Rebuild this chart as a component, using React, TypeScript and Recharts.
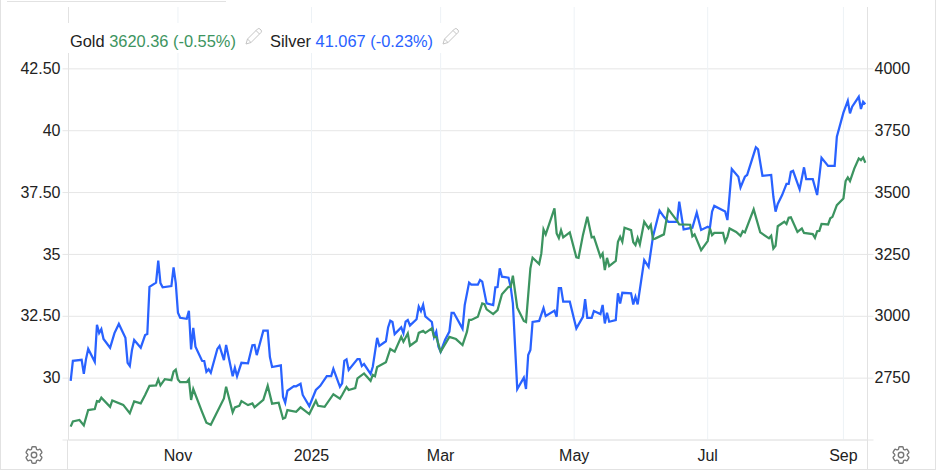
import { CartesianGrid, Line, LineChart, XAxis, YAxis } from "recharts";

// x values are calendar days counted from 12 Sep 2024
const silverDays = [1,2,6,7,8,9,12,13,14,15,16,19,21,23,26,27,28,29,30,33,35,36,37,40,41,42,43,47,48,49,50,51,54,55,56,57,58,61,62,63,64,65,68,69,71,72,75,76,77,79,82,84,85,86,89,91,92,93,97,98,99,100,103,104,106,107,110,113,115,118,120,121,124,125,126,127,128,132,133,134,135,138,139,141,142,145,146,147,148,149,152,153,154,155,156,159,160,161,162,163,166,167,168,169,170,172,174,175,176,180,181,183,184,187,188,189,191,194,195,196,197,198,201,202,203,205,208,209,210,211,212,215,217,218,222,223,224,225,226,229,232,235,236,237,239,240,243,244,245,246,247,250,251,252,253,257,258,259,260,263,265,267,270,272,274,278,279,281,285,287,289,292,293,294,295,300,301,302,303,306,307,309,310,314,315,317,321,322,323,324,326,328,329,330,331,334,336,337,340,342,343,344,347,350,351,354,356,357,358,361,362,363,364];
const silverValues = [29.89,30.7,30.74,30.17,30.77,31.18,30.66,32.16,31.82,31.98,31.58,31.23,31.82,32.19,31.63,30.62,30.49,31.14,31.54,31.23,31.74,31.78,33.69,33.86,34.75,33.84,33.67,33.72,34.48,33.84,32.64,32.44,32.4,32.72,31.16,32.03,31.27,30.7,30.69,30.26,30.36,30.22,31.18,31.3,30.73,31.34,30.08,30.42,30.08,30.62,30.6,31.33,31.34,30.93,31.92,31.92,30.86,30.45,30.52,29.25,29.01,29.49,29.68,29.67,29.77,29.32,28.87,29.52,29.69,30.08,30.08,30.38,29.65,29.79,30.7,30.76,30.33,30.77,30.77,30.49,30.57,30.17,30.46,31.63,31.3,31.49,32.05,32.32,32.27,31.78,32.05,31.81,32.28,32.35,32.13,32.38,32.89,32.71,32.96,32.5,32.27,31.67,31.88,31.27,31.07,31.54,31.88,32.64,32.64,32,32.95,33.86,33.78,33.78,33.97,33.9,33.02,32.95,33.67,33.68,34.44,34.1,34.06,33.69,33.02,29.56,30.02,29.56,30.93,31.14,32.27,32.31,32.83,32.51,32.73,32.48,33.64,33.64,33.09,33.09,32.01,32.48,33.19,32.44,32.44,32.71,32.59,32.96,32.21,32.64,32.28,32.35,33.43,33.02,33.45,33.43,32.98,33.29,32.98,34.77,34.5,35.72,36.77,36.52,36.32,36.32,37.13,36.01,36.08,36.69,35.99,36.12,36.07,36.73,36.96,36.73,36.39,37.4,38.45,38.14,37.71,38.14,38.21,39.33,39.25,38.18,38.21,37.33,36.73,37.04,37.4,37.85,37.85,38.34,38.38,37.63,38.52,38.04,38.04,37.4,38.14,38.91,38.58,38.58,39.76,40.73,41.21,40.7,40.97,41.37,40.88,41.17,41.067];

const goldDays = [1,2,5,7,9,12,13,14,15,19,20,25,28,30,33,35,37,40,41,42,44,47,48,49,50,51,54,55,56,57,61,63,65,71,72,75,76,78,79,82,84,85,89,91,93,96,98,99,100,104,106,110,113,114,117,121,124,125,127,128,131,132,135,138,139,140,141,145,147,149,152,153,155,156,159,160,162,163,166,167,168,170,174,177,180,182,183,184,187,189,190,191,194,196,198,201,202,203,205,208,209,211,212,215,216,217,218,222,223,224,225,226,229,232,233,235,237,239,240,243,244,245,246,247,250,251,252,253,254,257,258,259,260,261,263,265,266,267,268,272,274,278,279,284,285,286,289,292,293,294,295,299,300,301,302,305,307,308,309,313,316,320,321,322,323,324,327,328,329,330,333,335,336,340,341,342,343,344,347,348,349,351,354,355,356,357,359,361,362,363,364];
const goldValues = [2554,2575,2581,2559,2621,2625,2657,2655,2671,2634,2660,2642,2608,2656,2648,2682,2719,2721,2745,2721,2746,2742,2776,2784,2745,2734,2734,2745,2662,2706,2614,2570,2562,2668,2715,2612,2632,2638,2657,2641,2648,2632,2662,2719,2647,2651,2586,2590,2621,2614,2632,2605,2659,2638,2634,2685,2667,2682,2714,2702,2710,2749,2769,2739,2763,2758,2795,2814,2868,2857,2917,2897,2931,2881,2900,2933,2941,2933,2951,2917,2917,2857,2917,2908,2884,2937,2985,2985,2998,3052,3049,3028,3009,3025,3089,3119,3119,3164,3035,2981,2977,3194,3237,3211,3254,3351,3331,3436,3335,3316,3348,3319,3339,3238,3236,3328,3402,3319,3321,3240,3254,3187,3236,3203,3224,3301,3321,3301,3358,3348,3299,3288,3317,3291,3382,3355,3369,3312,3314,3331,3433,3386,3371,3370,3323,3331,3267,3304,3355,3328,3337,3337,3301,3321,3355,3341,3325,3344,3339,3432,3339,3315,3325,3274,3285,3364,3382,3373,3398,3400,3341,3355,3337,3332,3317,3344,3345,3373,3371,3396,3402,3449,3476,3546,3561,3546,3598,3638,3631,3642,3620.36];

const monthDays = [50, 111, 170, 231, 292, 354];
const monthLabels = ["Nov", "2025", "Mar", "May", "Jul", "Sep"];
const silverTicks = [27.5, 30, 32.5, 35, 37.5, 40, 42.5];
const silverTickLabels = ["", "30", "32.50", "35", "37.50", "40", "42.50"];
const goldTicks = [2500, 2750, 3000, 3250, 3500, 3750, 4000];
const goldTickLabels = ["", "2750", "3000", "3250", "3500", "3750", "4000"];

const GREEN = "#3c9460";
const BLUE = "#2962ff";
const FONT = "'Liberation Sans', Arial, sans-serif";

const byDay = new Map<number, { day: number; silver?: number; gold?: number }>();
silverDays.forEach((day, i) => byDay.set(day, { day, silver: silverValues[i] }));
goldDays.forEach((day, i) => byDay.set(day, { ...(byDay.get(day) || { day }), gold: goldValues[i] }));
const rows = [...byDay.values()].sort((a, b) => a.day - b.day);

const Gear = ({ left }: { left: number }) => (
  <svg width={22} height={22} viewBox="0 0 24 24" fill="none" stroke="#777" strokeWidth={1.5} style={{ position: "absolute", left, top: 444 }}>
    <path d="M9.594 3.94c.09-.542.56-.94 1.11-.94h2.593c.55 0 1.02.398 1.11.94l.213 1.281c.063.374.313.686.645.87.074.04.147.083.22.127.325.196.72.257 1.075.124l1.217-.456a1.125 1.125 0 0 1 1.37.49l1.296 2.247a1.125 1.125 0 0 1-.26 1.431l-1.003.827c-.293.241-.438.613-.43.992a7.723 7.723 0 0 1 0 .255c-.008.378.137.75.43.991l1.004.827c.424.35.534.955.26 1.43l-1.298 2.247a1.125 1.125 0 0 1-1.369.491l-1.217-.456c-.355-.133-.75-.072-1.076.124a6.47 6.47 0 0 1-.22.128c-.331.183-.581.495-.644.869l-.213 1.281c-.09.543-.56.94-1.11.94h-2.594c-.55 0-1.019-.398-1.11-.94l-.213-1.281c-.062-.374-.312-.686-.644-.87a6.52 6.52 0 0 1-.22-.127c-.325-.196-.72-.257-1.076-.124l-1.217.456a1.125 1.125 0 0 1-1.369-.49l-1.297-2.247a1.125 1.125 0 0 1 .26-1.431l1.004-.827c.292-.24.437-.613.43-.991a6.932 6.932 0 0 1 0-.255c.007-.38-.138-.751-.43-.992l-1.004-.827a1.125 1.125 0 0 1-.26-1.43l1.297-2.247a1.125 1.125 0 0 1 1.37-.491l1.216.456c.356.133.751.072 1.076-.124.072-.044.146-.086.22-.128.332-.183.582-.495.644-.869l.214-1.28Z" />
    <circle cx={12} cy={12} r={3} />
  </svg>
);

const Pencil = ({ left }: { left: number }) => (
  <svg width={18} height={18} viewBox="0 0 18 18" fill="none" stroke="#c4c4c4" strokeWidth={1} style={{ position: "absolute", left, top: 27 }}>
    <path d="M1 17 L2.5 12 L12.5 2 Q14 1 15 2 L16 3 Q17 4 16 5.5 L6 15.5 Z M2.5 12 L6 15.5 M11 3.5 L14.5 7" />
  </svg>
);

const Rule = ({ left, top, width, height }: { left: number; top: number; width: number; height: number }) => (
  <div style={{ position: "absolute", left, top, width, height, background: "#e2e2e2" }} />
);

const App = () => {
  return (
    <div style={{ position: "absolute", left: 0, top: 0, width: 936, height: 472, background: "#fff", fontFamily: FONT, overflow: "hidden" }}>
      <LineChart width={936} height={472} data={rows} margin={{ top: 7, right: 0, bottom: 0, left: 0 }}>
        <CartesianGrid yAxisId="left" vertical={false} syncWithTicks stroke="#e6e6e6" strokeWidth={1} />
        <CartesianGrid yAxisId="left" horizontal={false} syncWithTicks stroke="#edf2f6" strokeWidth={1} />
        <XAxis
          dataKey="day"
          type="number"
          domain={[0, 365]}
          ticks={monthDays}
          tickFormatter={(v: number) => monthLabels[monthDays.indexOf(v)]}
          height={32}
          interval={0}
          tickLine={false}
          tickMargin={4}
          axisLine={{ stroke: "#e6e6e6" }}
          tick={{ fill: "#222", fontSize: 16, fontFamily: FONT }}
        />
        <YAxis
          yAxisId="left"
          orientation="left"
          width={68.5}
          domain={[27.5, 45]}
          ticks={silverTicks}
          interval={0}
          tickFormatter={(v: number) => silverTickLabels[silverTicks.indexOf(v)]}
          tickSize={6}
          tickMargin={2}
          tickLine={{ stroke: "#e6e6e6" }}
          axisLine={{ stroke: "#e2e2e2" }}
          tick={{ fill: "#222", fontSize: 16, fontFamily: FONT, dy: -0.5 }}
        />
        <YAxis
          yAxisId="right"
          orientation="right"
          width={68.5}
          domain={[2500, 4250]}
          ticks={goldTicks}
          interval={0}
          tickFormatter={(v: number) => goldTickLabels[goldTicks.indexOf(v)]}
          tickSize={6}
          tickMargin={1}
          tickLine={{ stroke: "#e6e6e6" }}
          axisLine={{ stroke: "#e2e2e2" }}
          tick={{ fill: "#222", fontSize: 16, fontFamily: FONT, dy: -0.5 }}
        />
        <Line yAxisId="left" type="linear" dataKey="silver" stroke={BLUE} strokeWidth={2.25} dot={false} connectNulls isAnimationActive={false} />
        <Line yAxisId="right" type="linear" dataKey="gold" stroke={GREEN} strokeWidth={2.25} dot={false} connectNulls isAnimationActive={false} />
      </LineChart>

      <div style={{ position: "absolute", left: 68, top: 23, width: 397, height: 30, background: "#fff" }} />
      <div style={{ position: "absolute", left: 70, top: 32, fontSize: 16.4, lineHeight: "18px", color: "#222", whiteSpace: "pre" }}>
        Gold <span style={{ color: GREEN }}>3620.36 (-0.55%)</span>
      </div>
      <div style={{ position: "absolute", left: 270, top: 32, fontSize: 16.4, lineHeight: "18px", color: "#222", whiteSpace: "pre" }}>
        Silver <span style={{ color: BLUE }}>41.067 (-0.23%)</span>
      </div>
      <Pencil left={245} />
      <Pencil left={442} />

      <Rule left={7} top={1} width={219} height={1} />
      <Rule left={0} top={0} width={1} height={469} />
      <Rule left={0} top={469} width={936} height={1} />
      <Rule left={935} top={0} width={1} height={469} />
      <Rule left={67} top={440} width={1} height={29} />
      <Rule left={867} top={440} width={1} height={29} />
      <Gear left={23} />
      <Gear left={890} />
    </div>
  );
};

export default App;
